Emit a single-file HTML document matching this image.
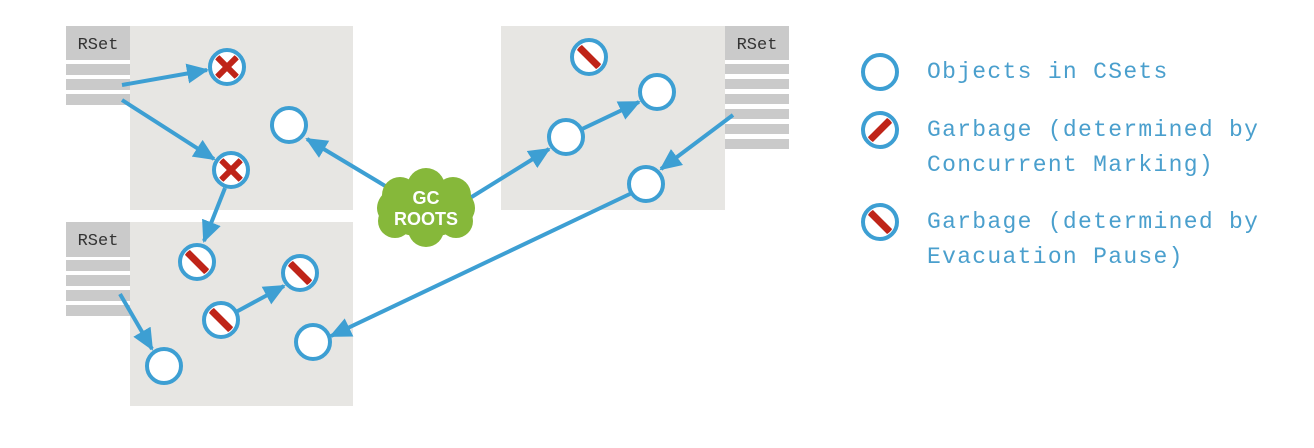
<!DOCTYPE html>
<html><head><meta charset="utf-8"><style>
html,body{margin:0;padding:0;background:#fff;width:1314px;height:448px;overflow:hidden}
svg text{font-family:"Liberation Mono",monospace}
</style></head><body>
<svg width="1314" height="448" viewBox="0 0 1314 448">
<defs>
<marker id="ah2" markerWidth="22" markerHeight="20" refX="20" refY="10" orient="auto" markerUnits="userSpaceOnUse">
<path d="M0,0 L22,10 L0,20 z" fill="#3d9fd3"/></marker>
<clipPath id="cc"><circle cx="0" cy="0" r="14"/></clipPath>
</defs>

<g>
<rect x="130" y="26" width="223" height="184" fill="#e7e6e3"/>
<rect x="66" y="26" width="64" height="34" fill="#cacaca"/>
<text x="98" y="49" font-size="17" fill="#333" text-anchor="middle">RSet</text>
<rect x="66" y="64" width="64" height="11" fill="#cacaca"/>
<rect x="66" y="79" width="64" height="11" fill="#cacaca"/>
<rect x="66" y="94" width="64" height="11" fill="#cacaca"/>
</g>
<g>
<rect x="501" y="26" width="224" height="184" fill="#e7e6e3"/>
<rect x="725" y="26" width="64" height="34" fill="#cacaca"/>
<text x="757" y="49" font-size="17" fill="#333" text-anchor="middle">RSet</text>
<rect x="725" y="64" width="64" height="10" fill="#cacaca"/>
<rect x="725" y="79" width="64" height="10" fill="#cacaca"/>
<rect x="725" y="94" width="64" height="10" fill="#cacaca"/>
<rect x="725" y="109" width="64" height="10" fill="#cacaca"/>
<rect x="725" y="124" width="64" height="10" fill="#cacaca"/>
<rect x="725" y="139" width="64" height="10" fill="#cacaca"/>
</g>
<g>
<rect x="130" y="222" width="223" height="184" fill="#e7e6e3"/>
<rect x="66" y="222" width="64" height="35" fill="#cacaca"/>
<text x="98" y="245" font-size="17" fill="#333" text-anchor="middle">RSet</text>
<rect x="66" y="260" width="64" height="11" fill="#cacaca"/>
<rect x="66" y="275" width="64" height="11" fill="#cacaca"/>
<rect x="66" y="290" width="64" height="11" fill="#cacaca"/>
<rect x="66" y="305" width="64" height="11" fill="#cacaca"/>
</g>

<g stroke="#3d9fd3" stroke-width="4" fill="none">
<line x1="122" y1="85" x2="207" y2="70" marker-end="url(#ah2)"/>
<line x1="122" y1="100" x2="214" y2="159" marker-end="url(#ah2)"/>
<line x1="225" y1="188" x2="204" y2="241" marker-end="url(#ah2)"/>
<line x1="392" y1="190" x2="307" y2="139" marker-end="url(#ah2)"/>
<line x1="470" y1="198" x2="549" y2="149" marker-end="url(#ah2)"/>
<line x1="580" y1="130" x2="639" y2="102" marker-end="url(#ah2)"/>
<line x1="733" y1="115" x2="661" y2="169" marker-end="url(#ah2)"/>
<line x1="634" y1="192" x2="331" y2="336" marker-end="url(#ah2)"/>
<line x1="120" y1="294" x2="152" y2="349" marker-end="url(#ah2)"/>
<line x1="236" y1="312" x2="284" y2="286" marker-end="url(#ah2)"/>
</g>

<g fill="#86b83a">
<ellipse cx="426" cy="208" rx="49" ry="29"/>
<circle cx="400" cy="195" r="18"/><circle cx="426" cy="187" r="19"/><circle cx="453" cy="195" r="18"/>
<circle cx="395" cy="221" r="17"/><circle cx="426" cy="229" r="18"/><circle cx="456" cy="221" r="17"/>
<text x="426" y="204" font-weight="bold" font-size="18" fill="#fff" text-anchor="middle" style="font-family:'Liberation Sans',sans-serif">GC</text>
<text x="426" y="225" font-weight="bold" font-size="18" fill="#fff" text-anchor="middle" style="font-family:'Liberation Sans',sans-serif">ROOTS</text>
</g>

<g fill="#fff" stroke="#3d9fd3" stroke-width="4">
<circle cx="289" cy="125" r="17"/>
<circle cx="657" cy="92" r="17"/>
<circle cx="566" cy="137" r="17"/>
<circle cx="646" cy="184" r="17"/>
<circle cx="164" cy="366" r="17"/>
<circle cx="313" cy="342" r="17"/>
</g>
<g>
<g transform="translate(227,67)"><circle r="17" fill="#fff" stroke="#3d9fd3" stroke-width="4"/><g clip-path="url(#cc)" stroke="#bf2418" stroke-width="6"><line x1="-10" y1="-10" x2="10" y2="10"/><line x1="10" y1="-10" x2="-10" y2="10"/></g></g>
<g transform="translate(231,170)"><circle r="17" fill="#fff" stroke="#3d9fd3" stroke-width="4"/><g clip-path="url(#cc)" stroke="#bf2418" stroke-width="6"><line x1="-10" y1="-10" x2="10" y2="10"/><line x1="10" y1="-10" x2="-10" y2="10"/></g></g>
</g>
<g>
<g transform="translate(589,57)"><circle r="17" fill="#fff" stroke="#3d9fd3" stroke-width="4"/><line clip-path="url(#cc)" x1="-14" y1="-14" x2="14" y2="14" stroke="#bf2418" stroke-width="7"/></g>
<g transform="translate(197,262)"><circle r="17" fill="#fff" stroke="#3d9fd3" stroke-width="4"/><line clip-path="url(#cc)" x1="-14" y1="-14" x2="14" y2="14" stroke="#bf2418" stroke-width="7"/></g>
<g transform="translate(300,273)"><circle r="17" fill="#fff" stroke="#3d9fd3" stroke-width="4"/><line clip-path="url(#cc)" x1="-14" y1="-14" x2="14" y2="14" stroke="#bf2418" stroke-width="7"/></g>
<g transform="translate(221,320)"><circle r="17" fill="#fff" stroke="#3d9fd3" stroke-width="4"/><line clip-path="url(#cc)" x1="-14" y1="-14" x2="14" y2="14" stroke="#bf2418" stroke-width="7"/></g>
</g>

<g fill="#4a9fcd" font-size="23" letter-spacing="1.3">
<g>
<circle cx="880" cy="72" r="17" fill="#fff" stroke="#3d9fd3" stroke-width="4"/>
<text x="927" y="78">Objects in CSets</text>
</g>
<g>
<g transform="translate(880,130)"><circle r="17" fill="#fff" stroke="#3d9fd3" stroke-width="4"/><line clip-path="url(#cc)" x1="-14" y1="14" x2="14" y2="-14" stroke="#bf2418" stroke-width="7"/></g>
<text x="927" y="136">Garbage (determined by</text>
<text x="927" y="171">Concurrent Marking)</text>
</g>
<g>
<g transform="translate(880,222)"><circle r="17" fill="#fff" stroke="#3d9fd3" stroke-width="4"/><line clip-path="url(#cc)" x1="-14" y1="-14" x2="14" y2="14" stroke="#bf2418" stroke-width="7"/></g>
<text x="927" y="228">Garbage (determined by</text>
<text x="927" y="263">Evacuation Pause)</text>
</g>
</g>
</svg>
</body></html>
